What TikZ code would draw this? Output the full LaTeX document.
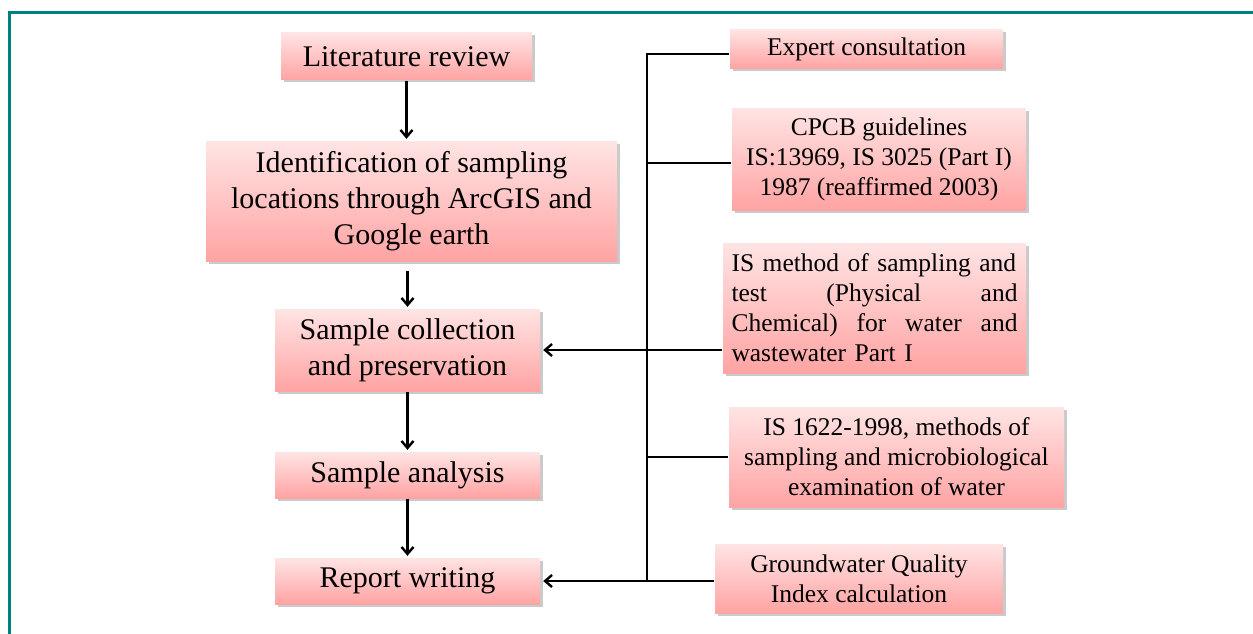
\documentclass[tikz,border=0pt]{standalone}
\usepackage{fontspec}
\setmainfont{Liberation Serif}
\usetikzlibrary{arrows.meta,shadows}

\definecolor{frameteal}{RGB}{0,128,128}
\definecolor{pinktop}{RGB}{255,228,228}
\definecolor{pinkbot}{RGB}{255,163,163}

\tikzset{every picture/.style={line width=2.4pt}}
\tikzset{
  stepbox/.style={top color=pinktop, bottom color=pinkbot, inner sep=2pt,
    drop shadow={shadow xshift=2.5pt, shadow yshift=-2.5pt, fill=black!35, opacity=0.6},
    align=center, font=\fontsize{30}{36}\selectfont},
  srcbox/.style={stepbox, font=\fontsize{25.5}{30}\selectfont},
  arr/.style={-{Straight Barb[length=7pt,width=12pt,line width=2.4pt]}},
}

\begin{document}
\begin{tikzpicture}[x=1pt,y=1pt,yscale=-1,xscale=1]
    \useasboundingbox (0,0) rectangle (1253,634);

    %frame
    \draw [frameteal, line width=3pt] (9.5,640) -- (9.5,12.5) -- (1260,12.5);

    % left column
    \node [stepbox, minimum width=251, minimum height=47] (lit) at (406.5,56.5) {Literature review};
    \node [stepbox, minimum width=411, minimum height=120] (ident) at (411.5,201) {Identification of sampling\\locations through ArcGIS and\\Google earth};
    \node [stepbox, minimum width=265, minimum height=82] (coll) at (407.5,350) {Sample collection\\and preservation};
    \node [stepbox, minimum width=265, minimum height=46] (anal) at (407.5,475) {Sample analysis};
    \node [stepbox, minimum width=265, minimum height=46] (rep) at (407.5,581) {Report writing};

    % right column
    \node [srcbox, minimum width=273, minimum height=39] (expert) at (866.5,49) {Expert consultation};
    \node [srcbox, minimum width=294, minimum height=102] (cpcb) at (879,159) {CPCB guidelines\\IS:13969, IS 3025 (Part I)\\1987 (reaffirmed 2003)};
    \node [srcbox, minimum width=303, minimum height=130, text width=286, align=left] (ismeth) at (874.5,308) {IS method of sampling and\\test\hfill(Physical\hfill and\\Chemical)\hfill for\hfill water\hfill and\\wastewater Part I};
    \node [srcbox, minimum width=335, minimum height=100] (istwo) at (896.5,457) {IS 1622-1998, methods of\\sampling and microbiological\\examination of water};
    \node [srcbox, minimum width=288, minimum height=69] (gwqi) at (859,578.5) {Groundwater Quality\\Index calculation};

    \coordinate (bus) at (647,0);

    % flow
    \draw [arr] (lit.south) -- ([yshift=-1]lit.south |- ident.north);
    \draw [arr] ([yshift=9]ident.south -| coll.north) -- ([yshift=-1]coll.north);
    \draw [arr] (coll.south) -- ([yshift=-1]anal.north);
    \draw [arr] (anal.south) -- ([yshift=-1]rep.north);

    % sources
    \draw (expert.west |- 0,54) -- (bus |- 0,54) -- (rep.east -| bus);
    \draw (cpcb.west |- 0,163) -- (bus |- 0,163);
    \draw (istwo.west) -- (istwo.west -| bus);
    \draw [arr] (coll.east -| ismeth.west) -- ([xshift=2]coll.east);
    \draw [arr] (rep.east -| gwqi.west) -- ([xshift=2]rep.east);

\end{tikzpicture}
\end{document}
